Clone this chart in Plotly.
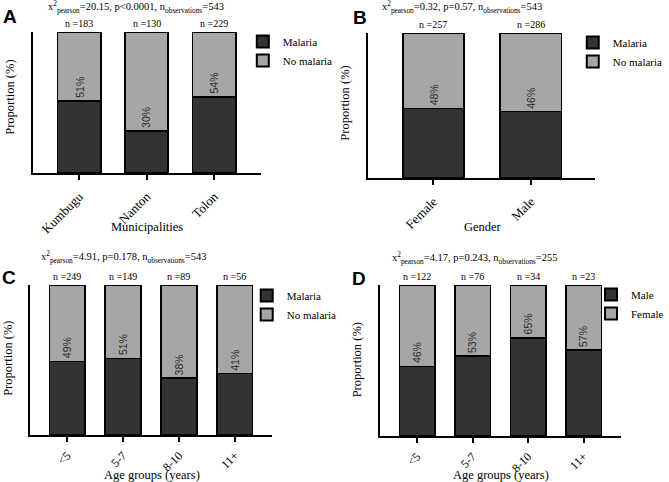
import plotly.graph_objects as go

W, H = 669, 482

# ---------------- data ----------------
A_categories = ["Kumbugu", "Nanton", "Tolon"]
A_malaria = [51, 30, 54]
A_no_malaria = [49, 70, 46]
A_n = [183, 130, 229]

B_categories = ["Female", "Male"]
B_malaria = [48, 46]
B_no_malaria = [52, 54]
B_n = [257, 286]

C_categories = ["<5", "5-7", "8-10", "11+"]
C_malaria = [49, 51, 38, 41]
C_no_malaria = [51, 49, 62, 59]
C_n = [249, 149, 89, 56]

D_categories = ["<5", "5-7", "8-10", "11+"]
D_male = [46, 53, 65, 57]
D_female = [54, 47, 35, 43]
D_n = [122, 76, 34, 23]

series_ABC = ["Malaria", "No malaria"]
series_D = ["Male", "Female"]

titles = [
    "x<sup>2</sup><sub>pearson</sub>=20.15, p&lt;0.0001, n<sub>observations</sub>=543",
    "x<sup>2</sup><sub>pearson</sub>=0.32, p=0.57, n<sub>observations</sub>=543",
    "x<sup>2</sup><sub>pearson</sub>=4.91, p=0.178, n<sub>observations</sub>=543",
    "x<sup>2</sup><sub>pearson</sub>=4.17, p=0.243, n<sub>observations</sub>=255",
]
panel_letters = ["A", "B", "C", "D"]
x_titles = ["Municipalities", "Gender", "Age groups (years)", "Age groups (years)"]
y_title = "Proportion (%)"

# ---------------- styling / layout (pixels) ----------------
DARK = "#333333"
LIGHT = "#a6a6a6"
SERIF = "Liberation Serif, Times New Roman, Tinos, DejaVu Serif, serif"
SANS = "Liberation Sans, Arial, sans-serif"

panels = [
    dict(cats=A_categories, s1=A_malaria, s2=A_no_malaria, n=A_n, names=series_ABC,
         x0=34, x1=267, ytop=32, ybot=173, xr=[-0.68, 2.70], bw=0.64, tfs=13, tso=4,
         title_xy=(47, 7), letter_xy=(1, 17), xt_xy=(150, 227), yt_xy=(10, 97), leg_xy=(248, 27)),
    dict(cats=B_categories, s1=B_malaria, s2=B_no_malaria, n=B_n, names=series_ABC,
         x0=376, x1=608, ytop=33, ybot=178, xr=[-0.67, 1.66], bw=0.63, tfs=13, tso=4,
         title_xy=(388, 7), letter_xy=(358, 18), xt_xy=(493, 227), yt_xy=(352, 103), leg_xy=(585, 28)),
    dict(cats=C_categories, s1=C_malaria, s2=C_no_malaria, n=C_n, names=series_ABC,
         x0=31, x1=278, ytop=285, ybot=435, xr=[-0.66, 3.67], bw=0.64, tfs=12, tso=2,
         title_xy=(40, 257), letter_xy=(0, 277), xt_xy=(155, 475), yt_xy=(8, 358), leg_xy=(252, 281)),
    dict(cats=D_categories, s1=D_male, s2=D_female, n=D_n, names=series_D,
         x0=388, x1=634, ytop=285, ybot=436, xr=[-0.67, 3.67], bw=0.64, tfs=12, tso=2,
         title_xy=(398, 258), letter_xy=(357, 278), xt_xy=(512, 475), yt_xy=(365, 360), leg_xy=(604, 280)),
]

fig = go.Figure()
annotations = []
layout = {}

for i, p in enumerate(panels):
    k = "" if i == 0 else str(i + 1)
    xa, ya = "x" + k, "y" + k
    leg = "legend" if i == 0 else "legend" + str(i + 1)
    for vals, name, col in [(p["s1"], p["names"][0], DARK), (p["s2"], p["names"][1], LIGHT)]:
        fig.add_trace(go.Bar(
            x=p["cats"], y=vals, name=name, xaxis=xa, yaxis=ya, legend=leg,
            marker=dict(color=col, line=dict(color="black", width=1.6)),
            width=p["bw"], showlegend=True, hoverinfo="skip",
        ))
    layout["xaxis" + k] = dict(
        domain=[p["x0"] / W, p["x1"] / W], anchor=ya, range=p["xr"],
        showline=True, linecolor="black", linewidth=1.8,
        ticks="outside", ticklen=5, tickwidth=1.5, tickcolor="black",
        tickangle=-45, ticklabelstandoff=p["tso"],
        tickfont=dict(family=SERIF, size=p["tfs"], color="black"),
        showgrid=False, zeroline=False, fixedrange=True,
    )
    layout["yaxis" + k] = dict(
        domain=[1 - p["ybot"] / H, 1 - p["ytop"] / H], anchor=xa, range=[0, 100],
        showline=True, linecolor="black", linewidth=1.8,
        showticklabels=False, ticks="", showgrid=False, zeroline=False, fixedrange=True,
    )
    lx, ly = p["leg_xy"]
    layout[leg] = dict(
        x=lx / W, y=1 - ly / H, xanchor="left", yanchor="top",
        font=dict(family=SERIF, size=11, color="black"),
        bgcolor="rgba(0,0,0,0)", traceorder="normal", tracegroupgap=4,
        itemsizing="constant",
    )
    # n labels and percent labels
    for c, n, v in zip(p["cats"], p["n"], p["s1"]):
        annotations.append(dict(
            x=c, y=100, xref=xa, yref=ya, text=f"n ={n}", showarrow=False,
            yanchor="bottom", yshift=1, font=dict(family=SERIF, size=10, color="black"),
        ))
        annotations.append(dict(
            x=c, y=v, xref=xa, yref=ya, text=f"{v}%", showarrow=False,
            textangle=-90, yanchor="bottom", yshift=1,
            font=dict(family=SANS, size=10.5, color="#2a2a2a"),
        ))
    tx, ty = p["title_xy"]
    annotations.append(dict(
        x=tx / W, y=1 - ty / H, xref="paper", yref="paper", text=titles[i],
        showarrow=False, xanchor="left", yanchor="middle",
        font=dict(family=SERIF, size=10.5, color="black"),
    ))
    lx2, ly2 = p["letter_xy"]
    annotations.append(dict(
        x=lx2 / W, y=1 - ly2 / H, xref="paper", yref="paper", text="<b>" + panel_letters[i] + "</b>",
        showarrow=False, xanchor="left", yanchor="middle",
        font=dict(family=SANS, size=19, color="black"),
    ))
    xtx, xty = p["xt_xy"]
    annotations.append(dict(
        x=xtx / W, y=1 - xty / H, xref="paper", yref="paper", text=x_titles[i],
        showarrow=False, xanchor="center", yanchor="middle",
        font=dict(family=SERIF, size=12.5, color="black"),
    ))
    ytx, yty = p["yt_xy"]
    annotations.append(dict(
        x=ytx / W, y=1 - yty / H, xref="paper", yref="paper", text=y_title,
        showarrow=False, xanchor="center", yanchor="middle", textangle=-90,
        font=dict(family=SERIF, size=12.5, color="black"),
    ))

fig.update_layout(
    width=W, height=H, margin=dict(l=0, r=0, t=0, b=0),
    paper_bgcolor="white", plot_bgcolor="white",
    barmode="stack", annotations=annotations,
    **layout,
)

fig.write_html(
    "out.html",
    config={"displayModeBar": False},
    post_script="document.body.style.margin='0';document.body.style.padding='0';",
)
